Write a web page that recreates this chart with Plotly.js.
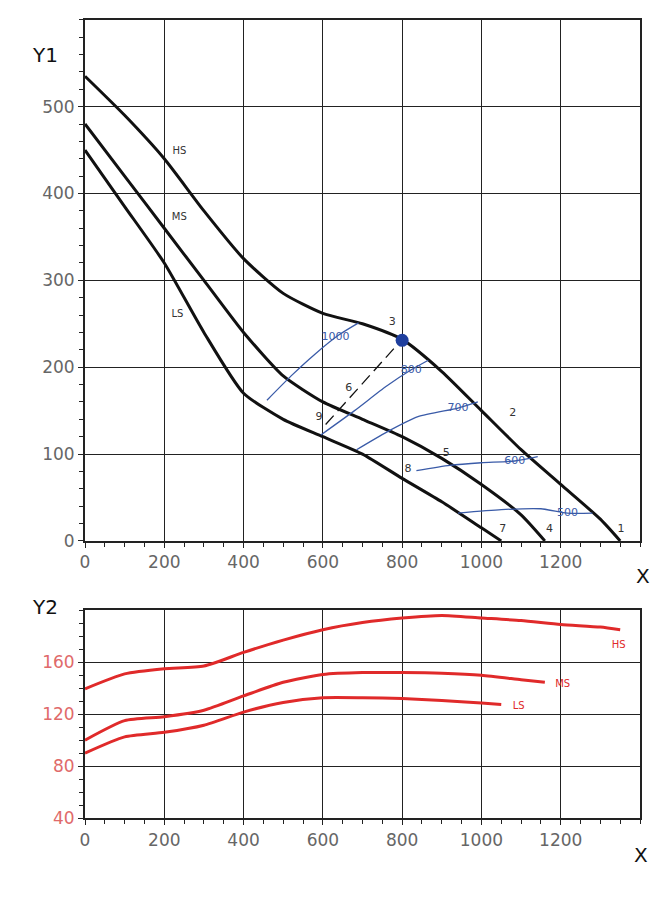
<!DOCTYPE html>
<html>
<head>
<meta charset="utf-8">
<script src="https://cdn.plot.ly/plotly-3.0.1.min.js"></script>
<style>body{margin:0;background:#fff}#chart{width:662px;height:900px}</style>
</head>
<body>
<div id="chart"></div>
<script>
// --- top panel: Y1 vs X ---
const hsX = [0, 100, 200, 300, 400, 500, 600, 700, 800, 900, 1000, 1100, 1200, 1300, 1350];
const hsY1 = [535, 490, 440, 380, 325, 285, 262, 250, 232, 195, 150, 105, 65, 25, 0];
const msX = [0, 100, 200, 300, 400, 500, 600, 700, 800, 900, 1000, 1100, 1160];
const msY1 = [480, 420, 360, 300, 240, 190, 160, 140, 120, 95, 65, 30, 0];
const lsX = [0, 100, 200, 300, 400, 500, 600, 700, 800, 900, 1000, 1050];
const lsY1 = [450, 385, 320, 240, 170, 140, 120, 100, 72, 45, 15, 0];

// blue iso-lines
const iso1000X = [459, 520, 580, 640, 690];
const iso1000Y = [162, 190, 215, 237, 251];
const iso800X = [595, 680, 760, 823, 866];
const iso800Y = [122, 150, 178, 197, 208];
const iso700X = [685, 760, 840, 941, 991];
const iso700Y = [105, 125, 143, 153, 160];
const iso600X = [836, 920, 1000, 1084, 1142];
const iso600Y = [81, 87, 90, 92, 97];
const iso500X = [941, 1050, 1150, 1217, 1280];
const iso500Y = [32, 36, 37, 32, 32];
const isoLabels = ['1000', '800', '700', '600', '500'];
const isoLabelX = [632, 823, 941, 1084, 1217];
const isoLabelY = [234, 197, 153, 92, 32];

const dashX = [607, 800];
const dashY = [134, 232];
const pointX = [800];
const pointY = [231];

const numLabels = ['1', '2', '3', '4', '5', '6', '7', '8', '9'];
const numX = [1352, 1079, 775, 1172, 911, 665, 1054, 815, 590];
const numY = [13, 147, 252, 13, 101, 176, 13, 82, 142];

const curveLabels = ['HS', 'MS', 'LS'];
const curveLabelX1 = [238, 238, 233];
const curveLabelY1 = [448, 372, 261];

// --- bottom panel: Y2 vs X ---
const hsY2 = [139.5, 151, 155, 157, 167.5, 177, 185, 190.5, 194, 196, 194, 192, 189, 187, 185];
const msY2 = [100, 115, 118, 123, 134, 144.5, 150.5, 152, 152, 151.5, 150, 146.5, 144.5];
const lsY2 = [90, 102.5, 106, 111.5, 121.6, 129, 132.6, 132.6, 132, 130.5, 128.5, 127.5];
const curveLabelX2 = [1346, 1205, 1094];
const curveLabelY2 = [172.6, 143, 125.5];

const xTicks = [0, 200, 400, 600, 800, 1000, 1200];
const y1Ticks = [0, 100, 200, 300, 400, 500];
const y2Ticks = [40, 80, 120, 160];

const black = '#111';
const blue = '#3a5ba8';
const red = '#e02a2a';

function line(x, y, color, width, xa, ya, dash) {
  return { x, y, xaxis: xa, yaxis: ya, type: 'scatter', mode: 'lines',
    line: { color, width, shape: 'spline', smoothing: 0.6, dash: dash || 'solid' },
    hoverinfo: 'skip', showlegend: false };
}

function labels(x, y, text, color, size, xa, ya) {
  return { x, y, xaxis: xa, yaxis: ya, type: 'scatter', mode: 'text', text,
    textfont: { color, size, family: 'DejaVu Sans' }, hoverinfo: 'skip', showlegend: false };
}

const traces = [
  line(hsX, hsY1, black, 3, 'x', 'y'),
  line(msX, msY1, black, 3, 'x', 'y'),
  line(lsX, lsY1, black, 3, 'x', 'y'),
  line(iso1000X, iso1000Y, blue, 1.3, 'x', 'y'),
  line(iso800X, iso800Y, blue, 1.3, 'x', 'y'),
  line(iso700X, iso700Y, blue, 1.3, 'x', 'y'),
  line(iso600X, iso600Y, blue, 1.3, 'x', 'y'),
  line(iso500X, iso500Y, blue, 1.3, 'x', 'y'),
  line(dashX, dashY, black, 1.3, 'x', 'y', '12px,6px'),
  labels(isoLabelX, isoLabelY, isoLabels, blue, 11, 'x', 'y'),
  labels(numX, numY, numLabels, '#333', 11, 'x', 'y'),
  labels(curveLabelX1, curveLabelY1, curveLabels, '#333', 10, 'x', 'y'),
  { x: pointX, y: pointY, xaxis: 'x', yaxis: 'y', type: 'scatter', mode: 'markers',
    marker: { color: '#1f3f9e', size: 13 }, hoverinfo: 'skip', showlegend: false },
  line(hsX, hsY2, red, 3, 'x2', 'y2'),
  line(msX, msY2, red, 3, 'x2', 'y2'),
  line(lsX, lsY2, red, 3, 'x2', 'y2'),
  labels(curveLabelX2, curveLabelY2, curveLabels, red, 10, 'x2', 'y2')
];

const tickFont = { family: 'DejaVu Sans', size: 17, color: '#666' };
const axBase = {
  showgrid: true, gridcolor: '#222', gridwidth: 1,
  showline: true, linecolor: '#222', linewidth: 2, mirror: true,
  zeroline: false, ticks: 'outside', ticklen: 5, tickcolor: '#222',
  fixedrange: true
};
const minor = d => ({ ticks: 'outside', ticklen: 4, tickcolor: '#222', showgrid: false, dtick: d });
const titleFont = { family: 'DejaVu Sans', size: 20, color: '#111' };

const layout = {
  width: 662, height: 900,
  margin: { l: 85, r: 22, t: 0, b: 0 },
  paper_bgcolor: '#fff', plot_bgcolor: '#fff',
  xaxis: Object.assign({}, axBase, { range: [0, 1400], tickvals: xTicks, anchor: 'y',
    minor: minor(50), tickfont: tickFont }),
  yaxis: Object.assign({}, axBase, { range: [0, 600], tickvals: y1Ticks, domain: [0.399, 0.978], anchor: 'x',
    minor: minor(20), tickfont: tickFont }),
  xaxis2: Object.assign({}, axBase, { range: [0, 1400], tickvals: xTicks, anchor: 'y2',
    minor: minor(50), tickfont: tickFont }),
  yaxis2: Object.assign({}, axBase, { range: [40, 200], tickvals: y2Ticks, domain: [0.091, 0.322], anchor: 'x2',
    minor: minor(10), tickfont: Object.assign({}, tickFont, { color: '#e06a6a' }) }),
  annotations: [
    { text: 'Y1', xref: 'paper', yref: 'paper', x: -0.1, y: 0.955, showarrow: false, font: titleFont, xanchor: 'left' },
    { text: 'X', xref: 'paper', yref: 'paper', x: 0.99, y: 0.36, showarrow: false, font: titleFont, xanchor: 'left' },
    { text: 'Y2', xref: 'paper', yref: 'paper', x: -0.1, y: 0.31, showarrow: false, font: titleFont, xanchor: 'left' },
    { text: 'X', xref: 'paper', yref: 'paper', x: 0.985, y: 0.035, showarrow: false, font: titleFont, xanchor: 'left' }
  ]
};

Plotly.newPlot('chart', traces, layout, { displayModeBar: false, staticPlot: true });
</script>
</body>
</html>
